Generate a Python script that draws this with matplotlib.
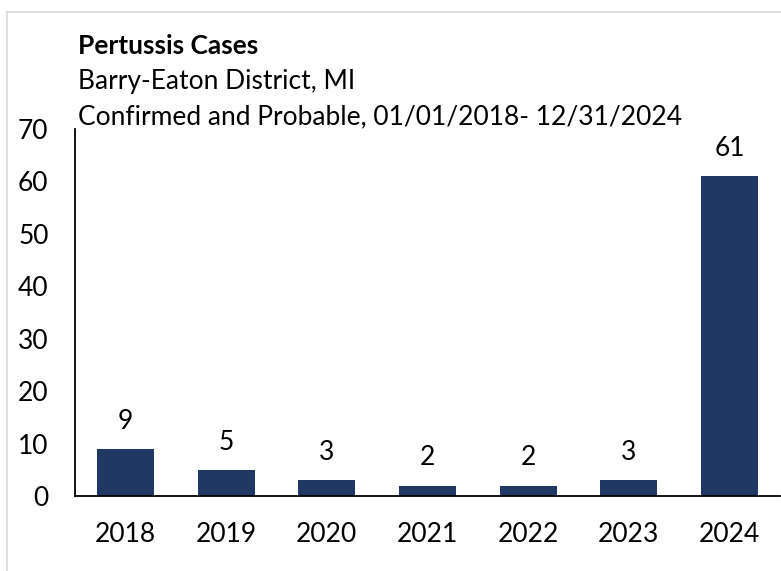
import matplotlib.pyplot as plt
from matplotlib.lines import Line2D

# data
years = ['2018', '2019', '2020', '2021', '2022', '2023', '2024']
cases = [9, 5, 3, 2, 2, 3, 61]
yticks = [0, 10, 20, 30, 40, 50, 60, 70]

plt.rcParams['font.family'] = ['Lato', 'DejaVu Sans']
FS = 19

W, H = 781, 571
fig = plt.figure(figsize=(W / 100, H / 100), dpi=100)
ax = fig.add_axes([75 / W, 1 - 496 / H, 705 / W, 367 / H])

bars = ax.bar(years, cases, width=0.565, color='#203864')
ax.bar_label(bars, padding=11, fontsize=FS)

ax.set_xlim(-0.5, 6.5)
ax.set_ylim(0, 70)
ax.set_yticks(yticks)
ax.tick_params(axis='both', length=0, labelsize=FS)
ax.tick_params(axis='x', pad=19)
ax.tick_params(axis='y', pad=19)
for s in ['top', 'right']:
    ax.spines[s].set_visible(False)
for s in ['left', 'bottom']:
    ax.spines[s].set_linewidth(1.3)
    ax.spines[s].set_color('black')

# titles
fig.text(78 / W, 1 - 46 / H, 'Pertussis Cases', fontsize=FS, fontweight='bold', va='center')
fig.text(78 / W, 1 - 82 / H, 'Barry-Eaton District, MI', fontsize=FS, va='center')
fig.text(78 / W, 1 - 117 / H, 'Confirmed and Probable, 01/01/2018- 12/31/2024', fontsize=FS, va='center')

# light frame
fig.add_artist(Line2D([7 / W, 1], [1 - 12 / H, 1 - 12 / H], color='#d9d9d9', lw=1.2))
fig.add_artist(Line2D([7 / W, 7 / W], [0, 1 - 12 / H], color='#d9d9d9', lw=1.2))

fig.savefig('out.png', dpi=100)
